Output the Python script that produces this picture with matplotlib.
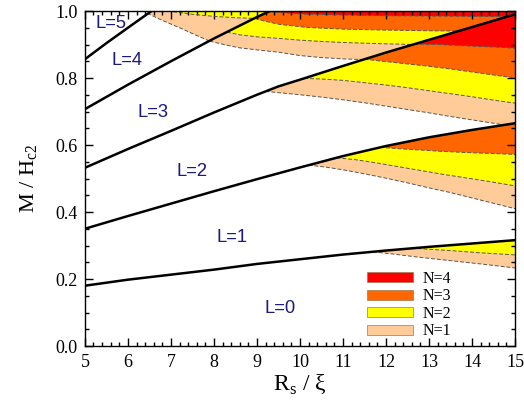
import numpy as np
import matplotlib
matplotlib.use('Agg')
import matplotlib.pyplot as plt
from matplotlib.patches import Polygon, Patch
from matplotlib.ticker import MultipleLocator, FormatStrFormatter

# ---- boundary lines between giant-vortex states L / L+1 ----
A_x = [5, 6, 7, 8, 9, 10, 11, 12, 13, 14, 15]                      # L=0 / L=1
A_y = [0.18, 0.198, 0.213, 0.228, 0.245, 0.259, 0.273, 0.285, 0.296, 0.306, 0.316]
B_x = [5, 6, 7, 8, 9, 10, 11, 12, 13, 14, 15]                      # L=1 / L=2
B_y = [0.35, 0.388, 0.425, 0.462, 0.498, 0.533, 0.567, 0.597, 0.623, 0.645, 0.665]
C_x = [5, 6, 7, 8, 9, 9.5, 10, 11, 12, 13, 14, 15]                 # L=2 / L=3
C_y = [0.532, 0.588, 0.642, 0.697, 0.75, 0.775, 0.795, 0.836, 0.876, 0.914, 0.952, 0.99]
D_x = [5, 6, 7, 8, 9, 9.3]                                          # L=3 / L=4
D_y = [0.707, 0.78, 0.85, 0.918, 0.982, 1.0]
E_x = [5, 5.5, 6, 6.55]                                             # L=4 / L=5
E_y = [0.856, 0.904, 0.95, 1.0]

# ---- dashed N-boundaries (lower edge of the region with >= N vortices) ----
# below line A
A_d1_x = [11.7, 12.2, 12.7, 13.2, 13.7, 14.2, 14.6, 15]
A_d1_y = [0.281, 0.274, 0.266, 0.259, 0.252, 0.245, 0.239, 0.233]
A_d2_x = [12.6, 13.1, 13.6, 14.1, 14.6, 15]
A_d2_y = [0.292, 0.288, 0.284, 0.279, 0.275, 0.272]
# below line B
B_d1_x = [10.2, 10.6, 11, 11.5, 12, 12.5, 13, 13.5, 14, 14.5, 15]
B_d1_y = [0.54, 0.534, 0.526, 0.514, 0.501, 0.487, 0.472, 0.458, 0.442, 0.426, 0.41]
B_d2_x = [10.85, 11.3, 11.8, 12.3, 12.8, 13.3, 13.8, 14.4, 15]
B_d2_y = [0.562, 0.556, 0.546, 0.535, 0.524, 0.513, 0.503, 0.491, 0.478]
B_d3_x = [11.86, 12.3, 12.8, 13.3, 13.8, 14.4, 15]
B_d3_y = [0.593, 0.589, 0.585, 0.581, 0.578, 0.575, 0.572]
# below line C
C_d1_x = [9.2, 9.6, 10, 10.5, 11, 11.5, 12, 12.5, 13, 13.5, 14, 14.5, 15]
C_d1_y = [0.76, 0.755, 0.75, 0.743, 0.735, 0.726, 0.716, 0.706, 0.696, 0.685, 0.675, 0.665, 0.655]
C_d2_x = [10.1, 10.5, 11, 11.5, 12, 12.5, 13, 13.5, 14, 14.5, 15]
C_d2_y = [0.799, 0.797, 0.793, 0.786, 0.779, 0.771, 0.762, 0.753, 0.744, 0.734, 0.725]
C_d3_x = [11.5, 12, 12.5, 13, 13.5, 14, 14.5, 15]
C_d3_y = [0.856, 0.849, 0.842, 0.835, 0.827, 0.818, 0.809, 0.80]
C_d4_x = [12.65, 13.2, 13.7, 14.2, 14.6, 15]
C_d4_y = [0.901, 0.9, 0.897, 0.894, 0.892, 0.889]
# below line D
D_d1_x = [7.9, 8.3, 8.6, 9, 9.5, 10, 10.5, 11, 11.5]
D_d1_y = [0.91, 0.898, 0.89, 0.884, 0.877, 0.867, 0.861, 0.857, 0.855]
D_d2_x = [8.3, 8.6, 9.0, 9.53, 10, 10.5, 11, 11.5, 12, 12.65]
D_d2_y = [0.937, 0.929, 0.923, 0.918, 0.913, 0.909, 0.906, 0.904, 0.902, 0.90]
D_d3_x = [8.95, 9.2, 9.53, 10.16, 11, 12, 13, 13.8]
D_d3_y = [0.978, 0.969, 0.96, 0.951, 0.946, 0.943, 0.941, 0.94]
D_d4_x = [9.28, 10, 11, 12, 13, 14, 15]
D_d4_y = [0.998, 0.991, 0.988, 0.986, 0.985, 0.984, 0.983]
# below line E
E_d1_x = [6.45, 6.8, 7.2, 7.6, 7.9]
E_d1_y = [0.993, 0.972, 0.95, 0.927, 0.91]
E_d2_x = [7.05, 7.5, 8.0, 8.5, 8.95]
E_d2_y = [0.998, 0.99, 0.984, 0.98, 0.978]

L_labels = ['L=0', 'L=1', 'L=2', 'L=3', 'L=4', 'L=5']
L_pos_x = [9.53, 8.42, 7.49, 6.58, 5.98, 5.6]
L_pos_y = [0.113, 0.325, 0.522, 0.696, 0.851, 0.964]

N_labels = ['N=1', 'N=2', 'N=3', 'N=4']
N_colors = ['#FFCC99', '#FFFF00', '#FF6600', '#FF0000']

serif = ['Liberation Serif', 'DejaVu Serif']
sans = ['Liberation Sans', 'DejaVu Sans']

fig = plt.figure(figsize=(5.24, 4.03), dpi=100)
ax = fig.add_axes([0.162, 0.1414, 0.821, 0.8313])
ax.set_xlim(5, 15)
ax.set_ylim(0, 1)

def band_patch(lo_x, lo_y, hi_x, hi_y):
    vx = list(lo_x) + list(hi_x)[::-1]
    vy = list(lo_y) + list(hi_y)[::-1]
    return Polygon(np.column_stack([vx, vy]), closed=True, transform=ax.transData,
                   facecolor='none', edgecolor='none')

# lines that leave through the top are carried on above the frame to close the bands
D_ext_x = D_x + [15]; D_ext_y = D_y + [1.4]
E_ext_x = E_x + [15]; E_ext_y = E_y + [1.6]

bands = [
    (band_patch([5, 15], [-1, -1], A_x, A_y),
     [(A_d1_x, A_d1_y), (A_d2_x, A_d2_y)]),
    (band_patch(A_x, A_y, B_x, B_y),
     [(B_d1_x, B_d1_y), (B_d2_x, B_d2_y), (B_d3_x, B_d3_y)]),
    (band_patch(B_x, B_y, C_x, C_y),
     [(C_d1_x, C_d1_y), (C_d2_x, C_d2_y), (C_d3_x, C_d3_y), (C_d4_x, C_d4_y)]),
    (band_patch(C_x, C_y, D_ext_x, D_ext_y),
     [(D_d1_x, D_d1_y), (D_d2_x, D_d2_y), (D_d3_x, D_d3_y), (D_d4_x, D_d4_y)]),
    (band_patch(D_ext_x, D_ext_y, E_ext_x, E_ext_y),
     [(E_d1_x, E_d1_y), (E_d2_x, E_d2_y)]),
]

for clip, curves in bands:
    for k, (cx, cy) in enumerate(curves):
        px = list(cx) + [cx[-1], 15, 15, cx[0]]
        py = list(cy) + [-1, -1, 2, 2]
        for pp in ax.fill(px, py, color=N_colors[k], lw=0, zorder=1):
            pp.set_clip_path(clip)
    for cx, cy in curves:
        ln, = ax.plot(cx, cy, color='#555555', lw=0.7, ls=(0, (4, 2)), zorder=2)
        ln.set_clip_path(clip)

for lx, ly in [(A_x, A_y), (B_x, B_y), (C_x, C_y), (D_x, D_y), (E_x, E_y)]:
    ax.plot(lx, ly, color='black', lw=1.8, zorder=4, solid_joinstyle='round')

for t, x, y in zip(L_labels, L_pos_x, L_pos_y):
    ax.text(x, y, t, family=sans, fontsize=13.2, color='#1a1a80',
            ha='center', va='center', zorder=5)

handles = [Patch(facecolor=c, edgecolor='#a07850', lw=0.5, label=l)
           for c, l in zip(N_colors, N_labels)][::-1]
ax.legend(handles=handles, loc='upper left', bbox_to_anchor=(0.656, 0.225),
          frameon=False, prop={'family': serif, 'size': 11.5},
          handlelength=2.9, handleheight=0.6, labelspacing=0.1,
          handletextpad=0.55, borderpad=0, borderaxespad=0)

ax.xaxis.set_major_locator(MultipleLocator(1))
ax.xaxis.set_minor_locator(MultipleLocator(0.2))
ax.yaxis.set_major_locator(MultipleLocator(0.2))
ax.yaxis.set_minor_locator(MultipleLocator(0.05))
ax.tick_params(which='both', direction='in', top=True, right=True, width=1)
ax.tick_params(which='major', length=6, labelsize=13)
ax.tick_params(axis='x', which='major', pad=6)
ax.tick_params(axis='y', which='major', pad=5)
ax.tick_params(which='minor', length=3)
ax.yaxis.set_major_formatter(FormatStrFormatter('%.1f'))
for lab in ax.get_xticklabels() + ax.get_yticklabels():
    lab.set_family(serif)
for s in ax.spines.values():
    s.set_linewidth(1.0)

ax.set_xlabel(r'R$_\mathregular{s}$ / ξ', family=serif, fontsize=17, labelpad=1)
ax.set_ylabel(r'M / H$_\mathregular{c2}$', family=serif, fontsize=16, labelpad=11)

fig.savefig('out.png', dpi=100)
